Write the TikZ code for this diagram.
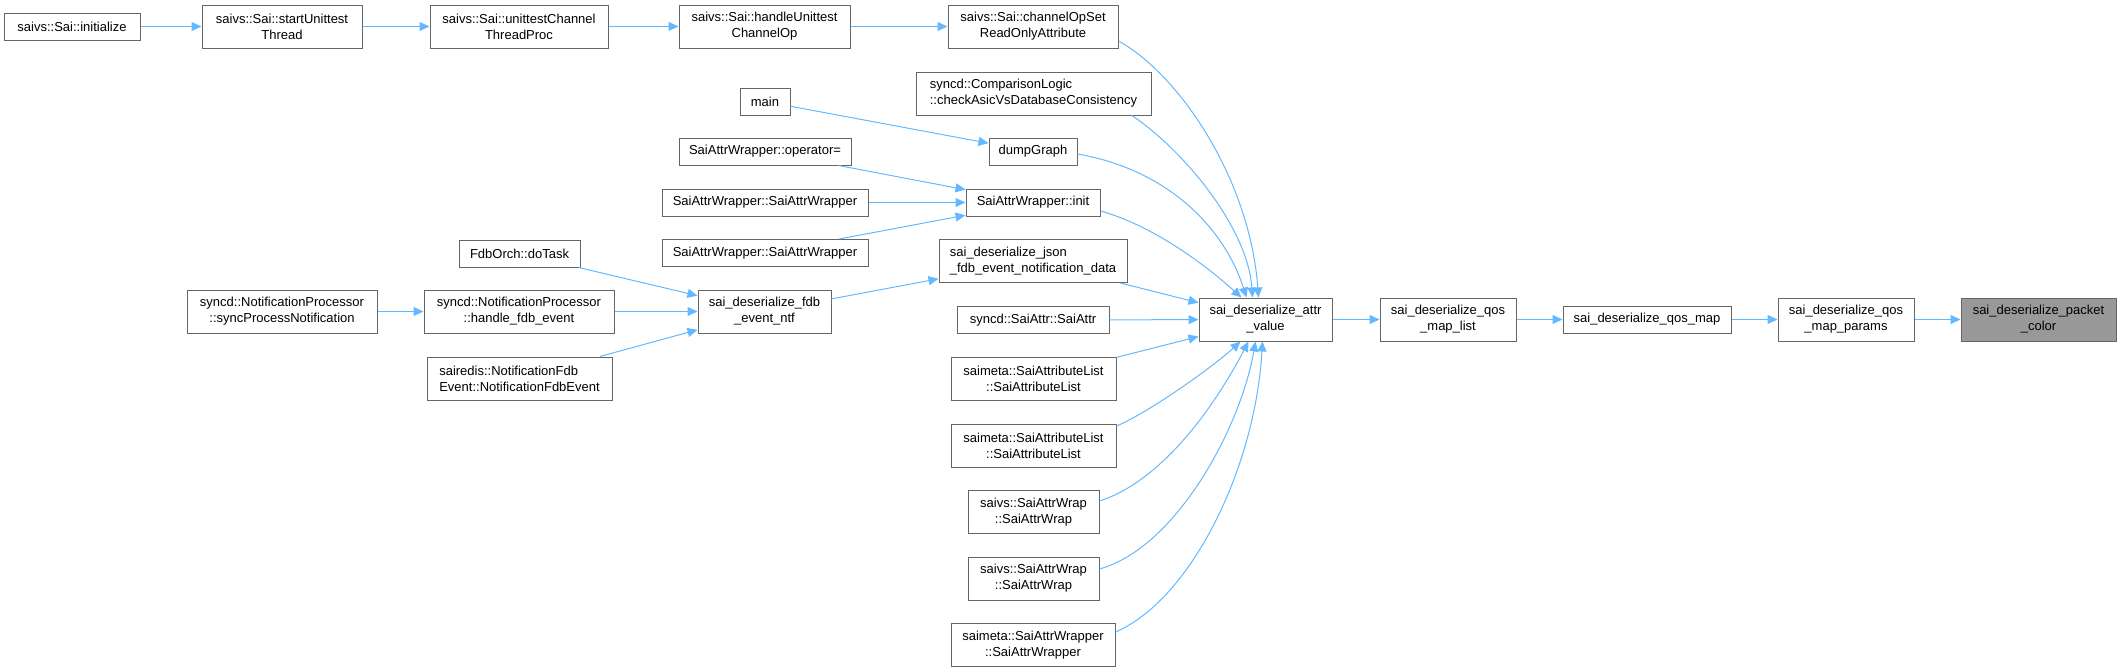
\documentclass[tikz,border=0pt]{standalone}
\usepackage{fontspec}
\setmainfont{Liberation Sans}
\usetikzlibrary{arrows.meta}
\definecolor{edgeblue}{HTML}{63B8FF}
\definecolor{boxline}{HTML}{666666}
\definecolor{hilite}{HTML}{999999}
\begin{document}
\begin{tikzpicture}[x=1pt,y=-1pt,
  fn/.style={draw=boxline, fill=white, line width=1pt, inner sep=0pt, align=center,
    font=\fontsize{13pt}{16pt}\selectfont},
  fnl/.style={fn, align=left},
  one/.style={minimum height=27pt},
  two/.style={minimum height=43pt},
  call/.style={draw=edgeblue, line width=1pt, -{Triangle[length=10pt,width=9pt]}}]
\useasboundingbox (0,0) rectangle (2121,672);

% top row
\node[fn, one, minimum width=136pt] (ini) at (72,26.5) {saivs::Sai::initialize};
\node[fn, two, minimum width=160pt] (sut) at (282,26.5) {saivs::Sai::startUnittest\\Thread};
\node[fn, two, minimum width=178pt] (uct) at (519,26.5) {saivs::Sai::unittestChannel\\ThreadProc};
\node[fn, two, minimum width=171pt] (huc) at (764.5,26.5) {saivs::Sai::handleUnittest\\ChannelOp};
\node[fn, two, minimum width=170pt] (cos) at (1033,26.5) {saivs::Sai::channelOpSet\\ReadOnlyAttribute};

% column 765 / 1033
\node[fnl, two, minimum width=235pt] (cmp) at (1033.5,93.5) {syncd::ComparisonLogic\\::checkAsicVsDatabaseConsistency};
\node[fn, one, minimum width=50pt] (main) at (765,101.5) {main};
\node[fn, one, minimum width=88pt] (dump) at (1033,151.5) {dumpGraph};
\node[fn, one, minimum width=172pt] (opeq) at (765,151.5) {SaiAttrWrapper::operator=};
\node[fn, one, minimum width=206pt] (swa) at (765,202.5) {SaiAttrWrapper::SaiAttrWrapper};
\node[fn, one, minimum width=206pt] (swb) at (765,253) {SaiAttrWrapper::SaiAttrWrapper};
\node[fn, one, minimum width=134pt] (ainit) at (1033,202.5) {SaiAttrWrapper::init};
\node[fnl, two, minimum width=188pt] (json) at (1033,261) {sai\_deserialize\_json\\\_fdb\_event\_notification\_data};

% fdb group
\node[fn, one, minimum width=121pt] (fdb) at (519.5,253.5) {FdbOrch::doTask};
\node[fn, two, minimum width=190pt] (spn) at (282,311.5) {syncd::NotificationProcessor\\::syncProcessNotification};
\node[fn, two, minimum width=190pt] (hfe) at (519,311.5) {syncd::NotificationProcessor\\::handle\_fdb\_event};
\node[fnl, two, minimum width=185pt] (nfe) at (519.5,378.5) {sairedis::NotificationFdb\\Event::NotificationFdbEvent};
\node[fn, two, minimum width=133pt] (ntf) at (764.5,311.5) {sai\_deserialize\_fdb\\\_event\_ntf};

% lower column
\node[fn, one, minimum width=152pt] (sattr) at (1033,320) {syncd::SaiAttr::SaiAttr};
\node[fn, two, minimum width=165pt] (sala) at (1033.5,378.5) {saimeta::SaiAttributeList\\::SaiAttributeList};
\node[fn, two, minimum width=165pt] (salb) at (1033.5,445.5) {saimeta::SaiAttributeList\\::SaiAttributeList};
\node[fn, two, minimum width=131pt] (swpa) at (1033.5,512) {saivs::SaiAttrWrap\\::SaiAttrWrap};
\node[fn, two, minimum width=131pt] (swpb) at (1033.5,578.5) {saivs::SaiAttrWrap\\::SaiAttrWrap};
\node[fn, two, minimum width=164pt] (smw) at (1033,645) {saimeta::SaiAttrWrapper\\::SaiAttrWrapper};

% main chain
\node[fn, two, minimum width=133pt] (av) at (1265.5,319.5) {sai\_deserialize\_attr\\\_value};
\node[fn, two, minimum width=136pt] (qml) at (1448,319.5) {sai\_deserialize\_qos\\\_map\_list};
\node[fn, one, minimum width=168pt] (qm) at (1647,319.5) {sai\_deserialize\_qos\_map};
\node[fn, two, minimum width=136pt] (qmp) at (1846,319.5) {sai\_deserialize\_qos\\\_map\_params};
\node[fn, two, minimum width=155pt, fill=hilite] (pc) at (2038.5,319.5) {sai\_deserialize\_packet\\\_color};

% straight edges
\draw[call] (ini) -- (sut);
\draw[call] (sut) -- (uct);
\draw[call] (uct) -- (huc);
\draw[call] (huc) -- (cos);
\draw[call] (main) -- (dump);
\draw[call] (opeq) -- (ainit);
\draw[call] (swa) -- (ainit);
\draw[call] (swb) -- (ainit);
\draw[call] (fdb) -- (ntf);
\draw[call] (spn) -- (hfe);
\draw[call] (hfe) -- (ntf);
\draw[call] (nfe) -- (ntf);
\draw[call] (ntf) -- (json);
\draw[call] (json) -- (av);
\draw[call] (sattr) -- (av);
\draw[call] (sala) -- (av);
\draw[call] (av) -- (qml);
\draw[call] (qml) -- (qm);
\draw[call] (qm) -- (qmp);
\draw[call] (qmp) -- (pc);

% curved edges into attr_value
\draw[call] ([yshift=-14.5pt]cos.east) .. controls (1180,75) and (1250,180) .. ([xshift=-7pt]av.north);
\draw[call] ([xshift=98.5pt]cmp.south) .. controls (1187,153) and (1248,230) .. ([xshift=-13pt]av.north);
\draw[call] ([yshift=-2.5pt]dump.east) .. controls (1170,170) and (1225,230) .. ([xshift=-19pt]av.north);
\draw[call] ([yshift=-8.5pt]ainit.east) .. controls (1151,225) and (1202,262) .. ([xshift=-24pt]av.north);
\draw[call] ([yshift=19.5pt]salb.east) .. controls (1150,412) and (1215,365) .. ([xshift=-25pt]av.south);
\draw[call] ([yshift=11pt]swpa.east) .. controls (1165,480) and (1218,400) .. ([xshift=-17pt]av.south);
\draw[call] ([yshift=9.5pt]swpb.east) .. controls (1175,548) and (1240,430) .. ([xshift=-10pt]av.south);
\draw[call] ([yshift=13pt]smw.east) .. controls (1190,600) and (1255,470) .. ([xshift=-3pt]av.south);
\end{tikzpicture}
\end{document}
